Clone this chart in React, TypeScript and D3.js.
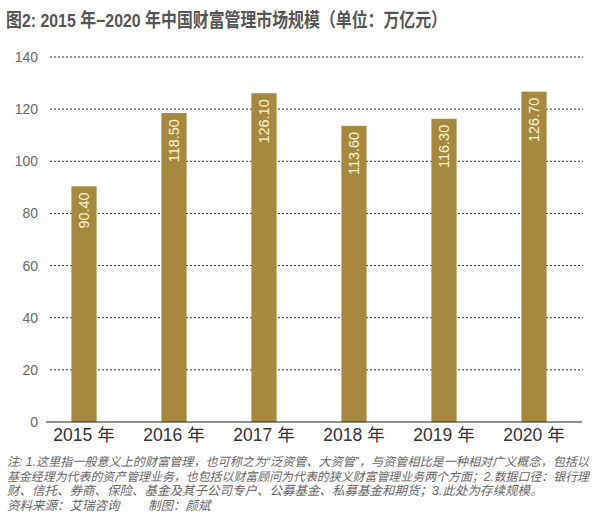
import React from 'react';
import * as d3 from 'd3';

// 中国财富管理市场规模（万亿元）
const years = ['2015 年', '2016 年', '2017 年', '2018 年', '2019 年', '2020 年'];
const values = [90.4, 118.5, 126.1, 113.6, 116.3, 126.7];
const yTicks = [0, 20, 40, 60, 80, 100, 120, 140];

const title = '图2: 2015 年−2020 年中国财富管理市场规模（单位：万亿元）';
const notes = [
  '注: 1.这里指一般意义上的财富管理，也可称之为“泛资管、大资管”，与资管相比是一种相对广义概念，包括以',
  '基金经理为代表的资产管理业务，也包括以财富顾问为代表的狭义财富管理业务两个方面；2.数据口径：银行理',
  '财、信托、券商、保险、基金及其子公司专户、公募基金、私募基金和期货；3.此处为存续规模。',
  '资料来源：艾瑞咨询　　 制图：颜斌',
];

const W = 613;
const H = 518;
const FONT = '"Liberation Sans", Arial, "Noto Sans CJK SC", sans-serif';
const BAR = '#a6893f';

const App: React.FC = () => {
  const x = d3.scaleBand<string>().domain(years).range([39, 579]).paddingInner(0.72).paddingOuter(0.36);
  const y = d3.scaleLinear().domain([0, 140]).range([422, 57]);
  const gridLeft = 50;
  const gridRight = 583;

  return (
    <svg width={W} height={H} style={{ position: 'absolute', left: 0, top: 0, background: '#fff' }} fontFamily={FONT}>
      <rect width={W} height={H} fill="#fff" />
      <text x={6} y={27} fontSize={19} fontWeight="bold" fill="#555" textLength={441} lengthAdjust="spacingAndGlyphs">
        {title}
      </text>

      {/* grid + y ticks */}
      {yTicks.map((t) => (
        <g key={t}>
          {t > 0 && (
            <line x1={gridLeft} x2={gridRight} y1={y(t)} y2={y(t)} stroke="#333" strokeWidth={1} strokeDasharray="2,2" />
          )}
          <text x={38} y={y(t)} dy="0.36em" textAnchor="end" fontSize={14} fill="#6a6a6a">
            {t}
          </text>
        </g>
      ))}

      {/* bars */}
      {years.map((yr, i) => {
        const bx = x(yr)!;
        const bw = x.bandwidth();
        const top = y(values[i]);
        return (
          <g key={yr}>
            <rect x={bx} y={top} width={bw} height={y(0) - top} fill={BAR} />
            <text
              transform={`translate(${bx + bw / 2},${top + 6}) rotate(-90)`}
              textAnchor="end"
              dominantBaseline="central"
              fontSize={14.5}
              fill="#fdf5da"
            >
              {values[i].toFixed(2)}
            </text>
            <text x={bx + bw / 2} y={441} textAnchor="middle" fontSize={17.5} fill="#333">
              {yr}
            </text>
          </g>
        );
      })}

      <line x1={gridLeft - 4} x2={gridRight - 1} y1={y(0)} y2={y(0)} stroke="#222" strokeWidth={1.2} />

      {/* notes */}
      {notes.map((n, i) => (
        <text
          key={i}
          x={7}
          y={466 + i * 14.5}
          fontSize={i < 2 ? 12 : 12.5}
          fill="#666"
          fontStyle="italic"
          textLength={i < 2 ? 582 : undefined}
          lengthAdjust="spacingAndGlyphs"
        >
          {n}
        </text>
      ))}
    </svg>
  );
};

export default App;
